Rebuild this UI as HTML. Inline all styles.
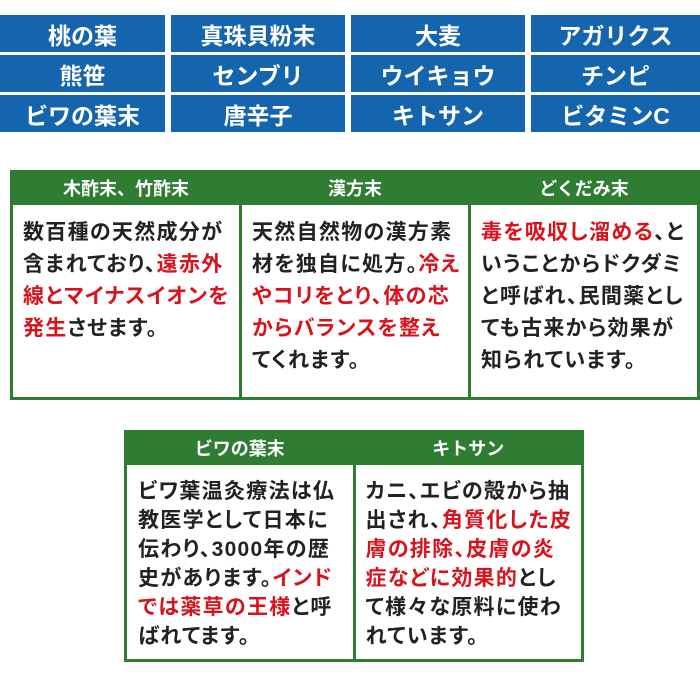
<!DOCTYPE html>
<html><head><meta charset="utf-8"><style>
body{margin:0;width:700px;height:700px;background:#fff;position:relative;font-family:"Liberation Sans","Noto Sans CJK JP",sans-serif;font-weight:bold;overflow:hidden}
.b{position:absolute;background:#1565ae;color:#fff;font-size:23px;display:flex;align-items:center;justify-content:center;height:37px}
.t{position:absolute;border:3px solid #2e7d32;box-sizing:border-box;display:flex}
.c{flex:1;display:flex;flex-direction:column;overflow:hidden}
.c+.c{border-left:3px solid #2e7d32}
.h{background:#2e7d32;color:#fff;font-size:18px;text-align:center;height:32px;line-height:32px}
.p{color:#222;font-size:21px;letter-spacing:1.3px;padding:12px 0 0 10px;line-height:32px;white-space:nowrap;font-feature-settings:"palt"}
.r{color:#d7141d}
</style></head><body>
<div class="b" style="left:0;top:15px;width:165px">桃の葉</div>
<div class="b" style="left:171px;top:15px;width:174px">真珠貝粉末</div>
<div class="b" style="left:351px;top:15px;width:174px">大麦</div>
<div class="b" style="left:531px;top:15px;width:169px">アガリクス</div>
<div class="b" style="left:0;top:55px;width:165px">熊笹</div>
<div class="b" style="left:171px;top:55px;width:174px">センブリ</div>
<div class="b" style="left:351px;top:55px;width:174px">ウイキョウ</div>
<div class="b" style="left:531px;top:55px;width:169px">チンピ</div>
<div class="b" style="left:0;top:95px;width:165px">ビワの葉末</div>
<div class="b" style="left:171px;top:95px;width:174px">唐辛子</div>
<div class="b" style="left:351px;top:95px;width:174px">キトサン</div>
<div class="b" style="left:531px;top:95px;width:169px">ビタミンC</div>

<div class="t" style="left:10px;top:170px;width:690px;height:230px">
<div class="c"><div class="h">木酢末、竹酢末</div><div class="p">数百種の天然成分が<br>含まれており、<span class="r">遠赤外</span><br><span class="r">線とマイナスイオンを</span><br><span class="r">発生</span>させます。</div></div>
<div class="c"><div class="h">漢方末</div><div class="p">天然自然物の漢方素<br>材を独自に処方。<span class="r">冷え</span><br><span class="r">やコリをとり、体の芯</span><br><span class="r">からバランスを整え</span><br>てくれます。</div></div>
<div class="c"><div class="h">どくだみ末</div><div class="p"><span class="r">毒を吸収し溜める</span>、と<br>いうことからドクダミ<br>と呼ばれ、民間薬とし<br>ても古来から効果が<br>知られています。</div></div>
</div>

<div class="t" style="left:124px;top:430px;width:460px;height:232px">
<div class="c"><div class="h">ビワの葉末</div><div class="p" style="line-height:29px;padding-left:11px">ビワ葉温灸療法は仏<br>教医学として日本に<br>伝わり、3000年の歴<br>史があります。<span class="r">インド</span><br><span class="r">では薬草の王様</span>と呼<br>ばれてます。</div></div>
<div class="c"><div class="h">キトサン</div><div class="p" style="line-height:29px">カニ、エビの殻から抽<br>出され、<span class="r">角質化した皮</span><br><span class="r">膚の排除、皮膚の炎</span><br><span class="r">症などに効果的</span>とし<br>て様々な原料に使わ<br>れています。</div></div>
</div>
</body></html>
